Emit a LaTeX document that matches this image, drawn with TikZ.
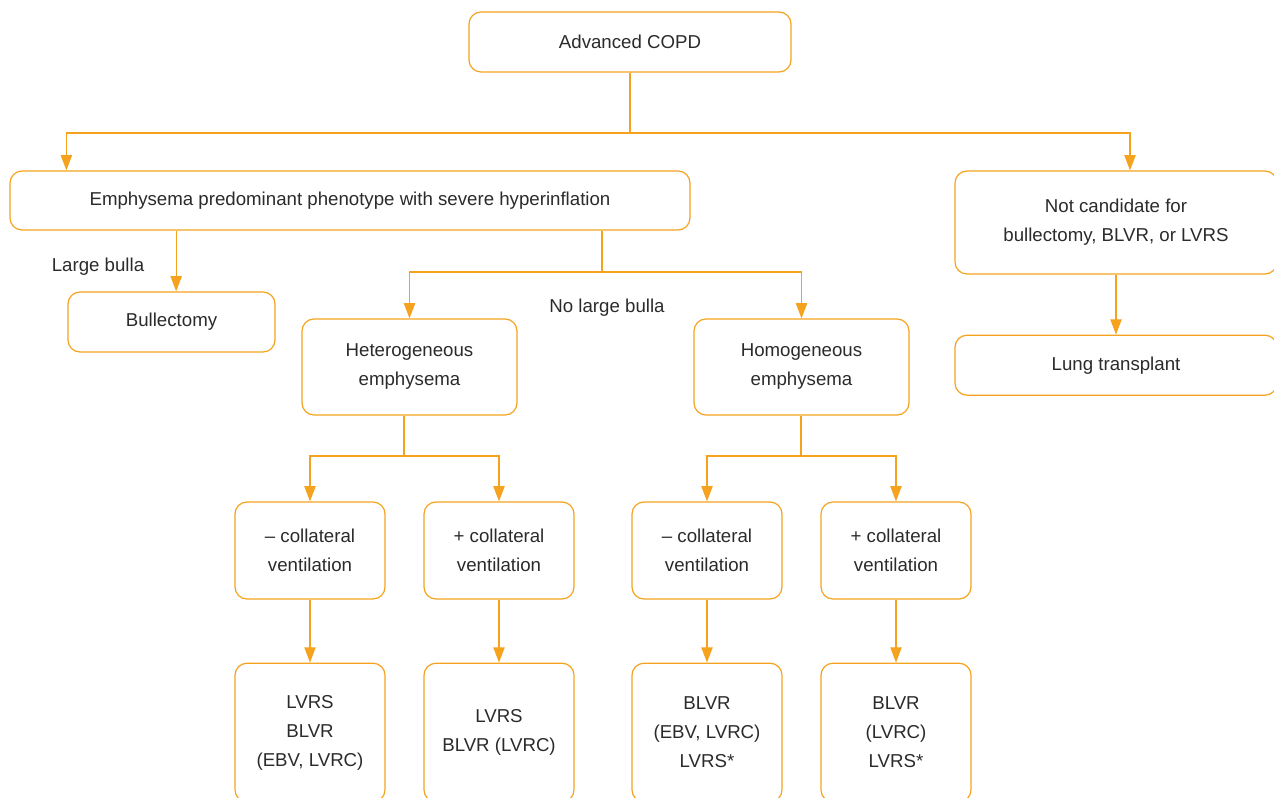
\documentclass[tikz,border=0pt]{standalone}
\usepackage{fontspec}
\setmainfont{Liberation Sans}
\usetikzlibrary{arrows.meta,positioning}
\definecolor{FlowOrange}{HTML}{F5A31F}
\definecolor{TextGray}{HTML}{2B2B2B}
\tikzset{
  box/.style={rectangle,rounded corners=9pt,draw=FlowOrange,line width=0.9pt,fill=white,
              align=center,text=TextGray,inner sep=2pt,font=\fontsize{14}{21.75}\selectfont},
  small/.style={box,minimum width=112.5pt,minimum height=72.75pt},
  arr/.style={-{Triangle[length=11.5pt,width=8.5pt]},line width=0.9pt,color=FlowOrange},
  line/.style={line width=0.9pt,color=FlowOrange},
  lbl/.style={text=TextGray,font=\fontsize{14}{16}\selectfont},
}
\begin{document}
\begin{tikzpicture}[x=0.75pt,y=-0.75pt]
  \useasboundingbox (0,0) rectangle (1274,798);

  \node[box,minimum width=241.5pt,minimum height=45pt] (copd) at (630,42) {Advanced COPD};
  \node[box,minimum width=510pt,minimum height=44.25pt] (emph) at (350,200.5)
       {Emphysema predominant phenotype with severe hyperinflation};
  \node[box,minimum width=241.5pt,minimum height=77.25pt] (notcand) at (1116,222.5)
       {Not candidate for\\bullectomy, BLVR, or LVRS};
  \node[box,minimum width=241.5pt,minimum height=45pt,below=45pt of notcand] (lung) {Lung transplant};
  \node[box,minimum width=155.25pt,minimum height=45pt] (bull) at (171.5,322) {Bullectomy};
  \node[box,minimum width=161.25pt,minimum height=72pt] (het) at (409.5,367) {Heterogeneous\\emphysema};
  \node[box,minimum width=161.25pt,minimum height=72pt] (hom) at (801.5,367) {Homogeneous\\emphysema};

  \node[small] (hetneg) at (310,550.5) {– collateral\\ventilation};
  \node[small] (hetpos) at (499,550.5) {+ collateral\\ventilation};
  \node[small] (homneg) at (707,550.5) {– collateral\\ventilation};
  \node[small] (hompos) at (896,550.5) {+ collateral\\ventilation};

  \node[small,minimum height=104pt,below=47.25pt of hetneg] (hetnegtx) {LVRS\\BLVR\\(EBV, LVRC)};
  \node[small,minimum height=104pt,below=47.25pt of hetpos] (hetpostx) {LVRS\\BLVR (LVRC)};
  \node[small,minimum height=104pt,below=47.25pt of homneg] (homnegtx) {BLVR\\(EBV, LVRC)\\LVRS*};
  \node[small,minimum height=104pt,below=47.25pt of hompos] (hompostx) {BLVR\\(LVRC)\\LVRS*};

  \node[lbl] (largebulla) at (98,267) {Large bulla};
  \node[lbl] (nobullalbl) at (607,308) {No large bulla};

  % top split
  \coordinate (topsplit) at (630,133);
  \draw[line] (copd) -- (topsplit);
  \draw[arr] (topsplit) -| ([xshift=42.75pt]emph.north west);
  \draw[arr] (topsplit) -| ([xshift=10.5pt]notcand.north);
  \draw[arr] (notcand) -- (lung);

  % bulla / no bulla
  \draw[arr] ([xshift=3.5pt]emph.south -| bull.north) -- ([xshift=3.5pt]bull.north);
  \coordinate (nobulla) at (602,272);
  \draw[line] (emph.south -| nobulla) -- (nobulla);
  \draw[arr] (nobulla) -| (het);
  \draw[arr] (nobulla) -| (hom);

  % collateral ventilation
  \coordinate (hetsplit) at (404,456);
  \draw[line] (het.south -| hetsplit) -- (hetsplit);
  \draw[arr] (hetsplit) -| (hetneg);
  \draw[arr] (hetsplit) -| (hetpos);
  \coordinate (homsplit) at (801,456);
  \draw[line] (hom.south -| homsplit) -- (homsplit);
  \draw[arr] (homsplit) -| (homneg);
  \draw[arr] (homsplit) -| (hompos);

  \draw[arr] (hetneg) -- (hetnegtx);
  \draw[arr] (hetpos) -- (hetpostx);
  \draw[arr] (homneg) -- (homnegtx);
  \draw[arr] (hompos) -- (hompostx);
\end{tikzpicture}
\end{document}
